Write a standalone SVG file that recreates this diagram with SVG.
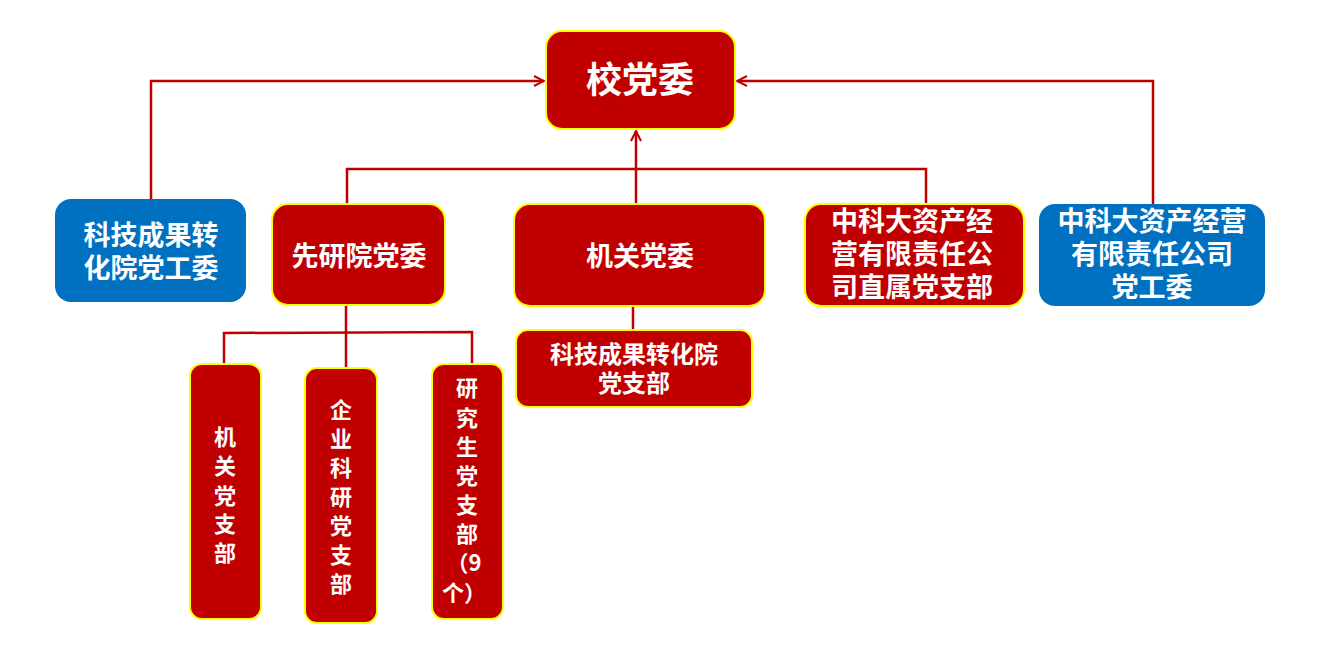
<svg xmlns="http://www.w3.org/2000/svg" width="1318" height="670" viewBox="0 0 1318 670">
<defs>
<marker id="arr" viewBox="0 0 12 12" refX="11" refY="6" markerWidth="12" markerHeight="12" markerUnits="userSpaceOnUse" orient="auto">
<path d="M1,1 L11,6 L1,11" fill="none" stroke="#C00000" stroke-width="2"/>
</marker>
<style>
.red{fill:#C00000;stroke:#FFFF00;stroke-width:2}
.blue{fill:#0070C0;stroke:none}
.t{font-family:"Noto Sans CJK SC","Noto Sans",sans-serif;font-weight:bold;fill:#FFFFFF;text-anchor:middle}
.ln{fill:none;stroke:#C00000;stroke-width:2.5}
</style>
</defs>
<rect width="1318" height="670" fill="#FFFFFF"/>
<g id="connectors">
<polyline class="ln" points="151,199 151,81 544,81" marker-end="url(#arr)"/>
<polyline class="ln" points="1153,204 1153,81 737,81" marker-end="url(#arr)"/>
<line class="ln" x1="636" y1="204" x2="636" y2="131" marker-end="url(#arr)"/>
<polyline class="ln" points="347,204 347,169 926,169 926,204"/>
<line class="ln" x1="346" y1="305" x2="346" y2="368"/>
<polyline class="ln" points="224,364 224,333 472,332 472,364"/>
<line class="ln" x1="633" y1="306" x2="633" y2="330"/>
</g>
<g id="n-school"><rect class="red" x="546" y="31" width="189" height="98" rx="16"/><text class="t" x="640" y="93" font-size="36">校党委</text></g>
<g id="n-techblue"><rect class="blue" x="55" y="199" width="191" height="103" rx="16"/><text class="t" x="151" y="245" font-size="27">科技成果转</text><text class="t" x="151" y="278" font-size="27">化院党工委</text></g>
<g id="n-xianyan"><rect class="red" x="272" y="204" width="173" height="101" rx="16"/><text class="t" x="359" y="266" font-size="27">先研院党委</text></g>
<g id="n-jiguan"><rect class="red" x="514" y="204" width="251" height="102" rx="16"/><text class="t" x="640" y="266" font-size="27">机关党委</text></g>
<g id="n-assetred"><rect class="red" x="805" y="204" width="219" height="102" rx="16"/><text class="t" x="912" y="231" font-size="27">中科大资产经</text><text class="t" x="912" y="264" font-size="27">营有限责任公</text><text class="t" x="912" y="297" font-size="27">司直属党支部</text></g>
<g id="n-assetblue"><rect class="blue" x="1039" y="204" width="226" height="102" rx="16"/><text class="t" x="1152" y="231" font-size="27">中科大资产经营</text><text class="t" x="1152" y="264" font-size="27">有限责任公司</text><text class="t" x="1152" y="297" font-size="27">党工委</text></g>
<g id="n-techbranch"><rect class="red" x="516" y="330" width="236" height="77" rx="12"/><text class="t" x="634" y="363" font-size="24">科技成果转化院</text><text class="t" x="634" y="392" font-size="24">党支部</text></g>
<g id="n-jgzb"><rect class="red" x="190" y="364" width="71" height="255" rx="12"/>
<text class="t" x="225" font-size="22"><tspan x="225" y="445">机</tspan><tspan x="225" y="474">关</tspan><tspan x="225" y="504">党</tspan><tspan x="225" y="532">支</tspan><tspan x="225" y="561">部</tspan></text></g>
<g id="n-qykyzb"><rect class="red" x="305" y="368" width="72" height="255" rx="12"/>
<text class="t" x="341" font-size="22"><tspan x="341" y="418">企</tspan><tspan x="341" y="447">业</tspan><tspan x="341" y="476">科</tspan><tspan x="341" y="505">研</tspan><tspan x="341" y="534">党</tspan><tspan x="341" y="563">支</tspan><tspan x="341" y="592">部</tspan></text></g>
<g id="n-yjszb"><rect class="red" x="432" y="364" width="71" height="255" rx="12"/>
<text class="t" x="467" font-size="22"><tspan x="467" y="396">研</tspan><tspan x="467" y="426">究</tspan><tspan x="467" y="455">生</tspan><tspan x="467" y="484">党</tspan><tspan x="467" y="513">支</tspan><tspan x="467" y="542">部</tspan><tspan x="464" y="571">（9</tspan><tspan x="464" y="601">个）</tspan></text></g>
</svg>
